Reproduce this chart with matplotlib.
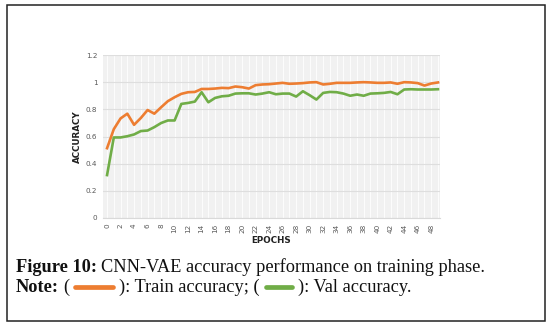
import matplotlib.pyplot as plt
from matplotlib.patches import Rectangle
import numpy as np

epochs = np.arange(50)
train_acc = [0.514, 0.654, 0.733, 0.768, 0.686, 0.736, 0.795, 0.768, 0.815, 0.860,
             0.889, 0.914, 0.926, 0.928, 0.950, 0.950, 0.953, 0.958, 0.956, 0.968,
             0.963, 0.953, 0.978, 0.983, 0.985, 0.990, 0.995, 0.988, 0.990, 0.993,
             0.998, 1.000, 0.983, 0.988, 0.995, 0.995, 0.995, 0.998, 1.000, 0.998,
             0.995, 0.995, 0.998, 0.988, 1.000, 0.998, 0.993, 0.975, 0.990, 0.998]
val_acc = [0.316, 0.593, 0.593, 0.602, 0.615, 0.640, 0.644, 0.669, 0.699, 0.718,
           0.718, 0.840, 0.847, 0.857, 0.926, 0.852, 0.884, 0.896, 0.900, 0.916,
           0.918, 0.918, 0.909, 0.916, 0.926, 0.911, 0.916, 0.916, 0.894, 0.933,
           0.904, 0.872, 0.921, 0.928, 0.926, 0.916, 0.900, 0.909, 0.900, 0.916,
           0.918, 0.921, 0.928, 0.911, 0.946, 0.948, 0.946, 0.946, 0.946, 0.948]
y_ticks = [0, 0.2, 0.4, 0.6, 0.8, 1.0, 1.2]
y_tick_labels = ["0", "0.2", "0.4", "0.6", "0.8", "1", "1.2"]

ORANGE = "#ED7D31"
GREEN = "#70AD47"

fig = plt.figure(figsize=(5.51, 3.23), dpi=100)
W, H = 551, 323

# outer frame
fig.add_artist(Rectangle((6.5 / W, 1 - 320.5 / H), 538.5 / W, 315.5 / H,
                         transform=fig.transFigure, fill=False, edgecolor="#222222", lw=1.1))

ax = fig.add_axes([103 / W, 1 - 218 / H, 337 / W, 163 / H])
ax.set_facecolor("#f1f1f1")
ax.plot(epochs, train_acc, color=ORANGE, lw=1.9, zorder=3)
ax.plot(epochs, val_acc, color=GREEN, lw=1.9, zorder=3)
ax.set_xlim(-0.6, 49.3)
ax.set_ylim(0, 1.2)

ax.set_xticks(epochs, minor=True)
ax.set_xticks(epochs[::2])
ax.set_xticklabels([str(e) for e in epochs[::2]], rotation=90, fontsize=5.2, color="#595959")
ax.set_yticks(y_ticks)
ax.set_yticklabels(y_tick_labels, fontsize=5.2, color="#595959")
ax.tick_params(which="both", length=0, pad=4)
ax.grid(which="both", axis="x", color="#ffffff", lw=0.6, zorder=1)
ax.grid(which="major", axis="y", color="#dedede", lw=0.8, zorder=1)
for s in ax.spines.values():
    s.set_visible(False)
ax.spines["bottom"].set_visible(True)
ax.spines["bottom"].set_color("#d9d9d9")

ax.set_ylabel("ACCURACY", fontsize=6.3, fontweight="bold", color="#222222", labelpad=3)
ax.set_xlabel("EPOCHS", fontsize=6.3, fontweight="bold", color="#222222", labelpad=2)

# caption with mixed weights
serif = "Liberation Serif"
fs = 13.2
r = fig.canvas.get_renderer()


def put(x, y, s, weight="normal"):
    t = fig.text(x / W, 1 - y / H, s, fontsize=fs, family=serif, weight=weight,
                 va="center", ha="left", color="#111111")
    bb = t.get_window_extent(renderer=r)
    return x + bb.width


y1, y2 = 267, 287
x = put(16, y1, "Figure 10:", "bold")
put(x + 4, y1, "CNN-VAE accuracy performance on training phase.")

x = put(16, y2, "Note:", "bold")
x = put(x + 4, y2, "(")
fig.add_artist(plt.Line2D([(x + 6) / W, (x + 44) / W], [1 - y2 / H] * 2,
                          transform=fig.transFigure, color=ORANGE, lw=3.4,
                          solid_capstyle="round"))
x = put(x + 50, y2, "): Train accuracy; (")
fig.add_artist(plt.Line2D([(x + 6) / W, (x + 32) / W], [1 - y2 / H] * 2,
                          transform=fig.transFigure, color=GREEN, lw=3.4,
                          solid_capstyle="round"))
put(x + 38, y2, "): Val accuracy.")

fig.savefig("out.png", dpi=100)
